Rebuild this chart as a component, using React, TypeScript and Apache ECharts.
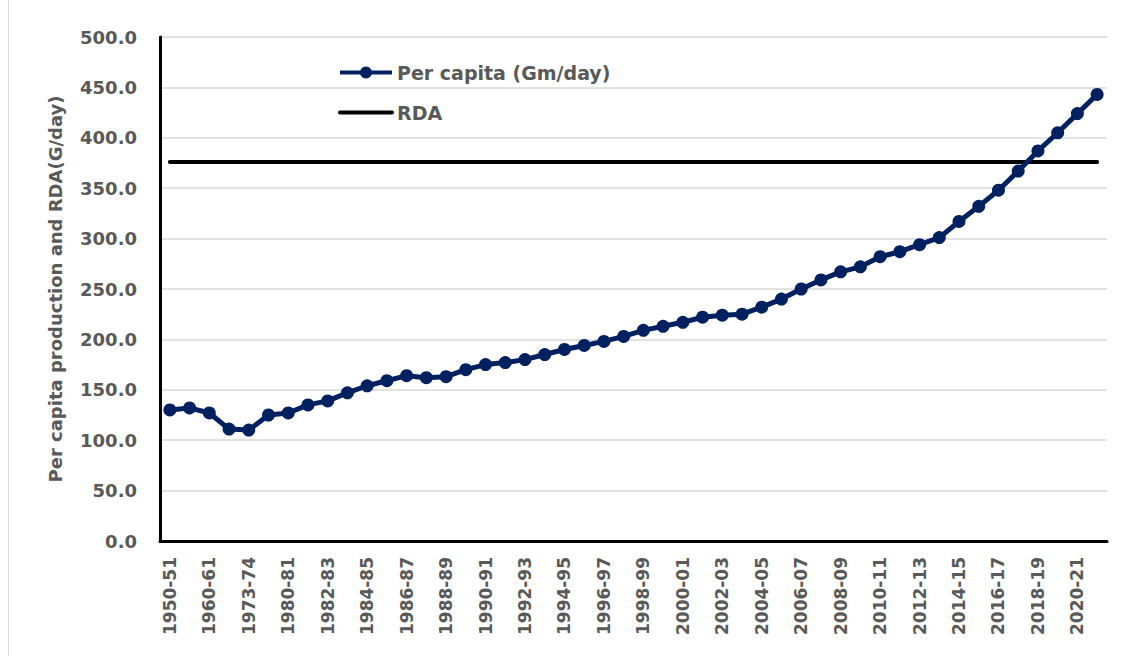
import React, { useEffect, useRef } from "react";
import * as echarts from "echarts";

const categories: string[] = [
  "1950-51", "1955-56", "1960-61", "1968-69", "1973-74", "1979-80",
  "1980-81", "1981-82", "1982-83", "1983-84", "1984-85", "1985-86",
  "1986-87", "1987-88", "1988-89", "1989-90", "1990-91", "1991-92",
  "1992-93", "1993-94", "1994-95", "1995-96", "1996-97", "1997-98",
  "1998-99", "1999-00", "2000-01", "2001-02", "2002-03", "2003-04",
  "2004-05", "2005-06", "2006-07", "2007-08", "2008-09", "2009-10",
  "2010-11", "2011-12", "2012-13", "2013-14", "2014-15", "2015-16",
  "2016-17", "2017-18", "2018-19", "2019-20", "2020-21", "2021-22",
];

const perCapita: number[] = [
  130, 132, 127, 111, 110, 125,
  127, 135, 139, 147, 154, 159,
  164, 162, 163, 170, 175, 177,
  180, 185, 190, 194, 198, 203,
  209, 213, 217, 222, 224, 225,
  232, 240, 250, 259, 267, 272,
  282, 287, 294, 301, 317, 332,
  348, 367, 387, 405, 424, 443,
];

const RDA_VALUE = 376;
const rda: number[] = categories.map(() => RDA_VALUE);

const yTicks = { min: 0, max: 500, interval: 50 };

const FONT = "DejaVu Sans";
const TEXT_COLOR = "#595959";

export default function App() {
  const ref = useRef<HTMLDivElement>(null);
  useEffect(() => {
    if (!ref.current) return;
    const chart = echarts.init(ref.current, undefined, { renderer: "svg" });
    chart.setOption({
      animation: false,
      backgroundColor: "#ffffff",
      textStyle: { fontFamily: FONT },
      grid: { left: 160, right: 16, top: 37, bottom: 115, containLabel: false },
      legend: {
        orient: "vertical",
        left: 333,
        top: 58,
        itemWidth: 52,
        itemHeight: 15,
        itemGap: 21,
        lineStyle: { width: 4 },
        textStyle: {
          fontFamily: FONT,
          fontWeight: "bold",
          fontSize: 19,
          color: TEXT_COLOR,
        },
        data: [
          { name: "Per capita (Gm/day)" },
          { name: "RDA", itemStyle: { opacity: 0 } },
        ],
      },
      graphic: [
        {
          type: "line",
          shape: { x1: 8.5, y1: 0, x2: 8.5, y2: 656 },
          style: { stroke: "#d9d9d9", lineWidth: 1 },
          silent: true,
        },
      ],
      xAxis: {
        type: "category",
        data: categories,
        boundaryGap: true,
        axisLine: { show: true, lineStyle: { color: "#000000", width: 3 } },
        axisTick: { show: false },
        splitLine: { show: false },
        axisLabel: {
          interval: 1,
          rotate: 90,
          margin: 16,
          fontFamily: FONT,
          fontWeight: "bold",
          fontSize: 17,
          color: TEXT_COLOR,
        },
      },
      yAxis: {
        type: "value",
        min: yTicks.min,
        max: yTicks.max,
        interval: yTicks.interval,
        name: "Per capita production and RDA(G/day)",
        nameLocation: "middle",
        nameGap: 96,
        nameTextStyle: {
          fontFamily: FONT,
          fontWeight: "bold",
          fontSize: 18,
          color: TEXT_COLOR,
        },
        axisLine: { show: true, lineStyle: { color: "#000000", width: 3 } },
        axisTick: { show: false },
        splitLine: { show: true, lineStyle: { color: "#d9d9d9", width: 1.5 } },
        axisLabel: {
          margin: 23,
          fontFamily: FONT,
          fontWeight: "bold",
          fontSize: 18,
          color: TEXT_COLOR,
          formatter: (v: number) => v.toFixed(1),
        },
      },
      series: [
        {
          name: "Per capita (Gm/day)",
          type: "line",
          data: perCapita,
          symbol: "circle",
          symbolSize: 13,
          showSymbol: true,
          itemStyle: { color: "#002060" },
          lineStyle: { color: "#002060", width: 5 },
          z: 3,
        },
        {
          name: "RDA",
          type: "line",
          data: rda,
          symbol: "none",
          itemStyle: { color: "#000000" },
          lineStyle: { color: "#000000", width: 4, cap: "round" },
          z: 2,
        },
      ],
    });
    return () => chart.dispose();
  }, []);
  return (
    <div
      ref={ref}
      style={{ position: "fixed", left: 0, top: 0, width: 1123, height: 656 }}
    />
  );
}
